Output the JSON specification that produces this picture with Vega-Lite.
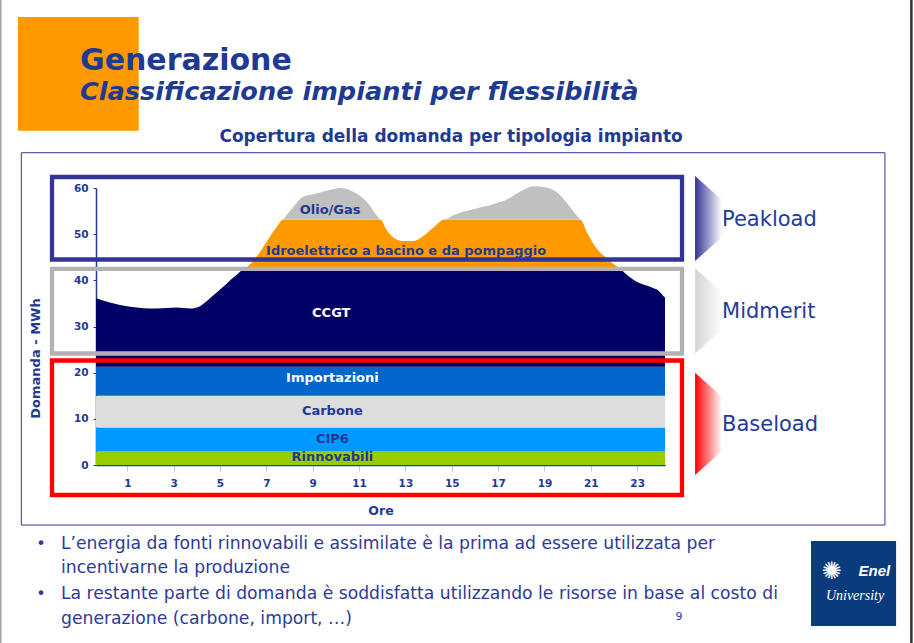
{
  "$schema": "https://vega.github.io/schema/vega-lite/v6.json",
  "width": 569,
  "height": 277,
  "autosize": {"type": "none"},
  "padding": {"left": 96, "top": 188, "right": 249, "bottom": 178},
  "background": "#ffffff",
  "config": {"view": {"stroke": null}, "font": "DejaVu Sans"},
  "data": {"values": [{"note": "slide"}]},
  "datasets": {
    "bands": [
      {"hour": -0.35, "type": "Rinnovabili", "lo": 0, "hi": 2.9},
      {"hour": 24.2, "type": "Rinnovabili", "lo": 0, "hi": 2.9},
      {"hour": -0.35, "type": "CIP6", "lo": 2.9, "hi": 8.1},
      {"hour": 24.2, "type": "CIP6", "lo": 2.9, "hi": 8.1},
      {"hour": -0.35, "type": "Carbone", "lo": 8.1, "hi": 15.0},
      {"hour": 24.2, "type": "Carbone", "lo": 8.1, "hi": 15.0},
      {"hour": -0.35, "type": "Importazioni", "lo": 15.0, "hi": 21.3},
      {"hour": 24.2, "type": "Importazioni", "lo": 15.0, "hi": 21.3},
      {"hour": -0.35, "type": "CCGT", "lo": 21.3, "hi": 36.1},
      {"hour": 0.25, "type": "CCGT", "lo": 21.3, "hi": 35.2},
      {"hour": 1.12, "type": "CCGT", "lo": 21.3, "hi": 34.3},
      {"hour": 2.27, "type": "CCGT", "lo": 21.3, "hi": 33.9},
      {"hour": 3.13, "type": "CCGT", "lo": 21.3, "hi": 34.1},
      {"hour": 3.71, "type": "CCGT", "lo": 21.3, "hi": 33.9},
      {"hour": 4.14, "type": "CCGT", "lo": 21.3, "hi": 34.4},
      {"hour": 4.57, "type": "CCGT", "lo": 21.3, "hi": 36.1},
      {"hour": 5.14, "type": "CCGT", "lo": 21.3, "hi": 38.6},
      {"hour": 5.72, "type": "CCGT", "lo": 21.3, "hi": 41.2},
      {"hour": 5.98, "type": "CCGT", "lo": 21.3, "hi": 42.2},
      {"hour": 22.3, "type": "CCGT", "lo": 21.3, "hi": 42.2},
      {"hour": 22.55, "type": "CCGT", "lo": 21.3, "hi": 41.2},
      {"hour": 22.98, "type": "CCGT", "lo": 21.3, "hi": 39.7},
      {"hour": 23.55, "type": "CCGT", "lo": 21.3, "hi": 38.6},
      {"hour": 23.98, "type": "CCGT", "lo": 21.3, "hi": 37.5},
      {"hour": 24.15, "type": "CCGT", "lo": 21.3, "hi": 36.5},
      {"hour": 24.2, "type": "CCGT", "lo": 21.3, "hi": 36.3},
      {"hour": 5.98, "type": "Idro", "lo": 42.2, "hi": 42.2},
      {"hour": 6.15, "type": "Idro", "lo": 42.2, "hi": 42.8},
      {"hour": 6.58, "type": "Idro", "lo": 42.2, "hi": 45.1},
      {"hour": 7.02, "type": "Idro", "lo": 42.2, "hi": 48.4},
      {"hour": 7.45, "type": "Idro", "lo": 42.2, "hi": 51.6},
      {"hour": 7.73, "type": "Idro", "lo": 42.2, "hi": 53.2},
      {"hour": 11.92, "type": "Idro", "lo": 42.2, "hi": 53.2},
      {"hour": 12.19, "type": "Idro", "lo": 42.2, "hi": 50.9},
      {"hour": 12.48, "type": "Idro", "lo": 42.2, "hi": 49.3},
      {"hour": 12.91, "type": "Idro", "lo": 42.2, "hi": 48.5},
      {"hour": 13.34, "type": "Idro", "lo": 42.2, "hi": 48.5},
      {"hour": 13.77, "type": "Idro", "lo": 42.2, "hi": 49.6},
      {"hour": 14.2, "type": "Idro", "lo": 42.2, "hi": 51.4},
      {"hour": 14.7, "type": "Idro", "lo": 42.2, "hi": 53.2},
      {"hour": 20.53, "type": "Idro", "lo": 42.2, "hi": 53.2},
      {"hour": 20.89, "type": "Idro", "lo": 42.2, "hi": 49.8},
      {"hour": 21.25, "type": "Idro", "lo": 42.2, "hi": 46.9},
      {"hour": 21.68, "type": "Idro", "lo": 42.2, "hi": 44.8},
      {"hour": 22.12, "type": "Idro", "lo": 42.2, "hi": 43.0},
      {"hour": 22.3, "type": "Idro", "lo": 42.2, "hi": 42.2},
      {"hour": 7.73, "type": "Olio/Gas", "lo": 53.2, "hi": 53.2},
      {"hour": 8.16, "type": "Olio/Gas", "lo": 53.2, "hi": 55.9},
      {"hour": 8.59, "type": "Olio/Gas", "lo": 53.2, "hi": 58.1},
      {"hour": 9.17, "type": "Olio/Gas", "lo": 53.2, "hi": 58.8},
      {"hour": 9.75, "type": "Olio/Gas", "lo": 53.2, "hi": 59.6},
      {"hour": 10.18, "type": "Olio/Gas", "lo": 53.2, "hi": 60.0},
      {"hour": 10.75, "type": "Olio/Gas", "lo": 53.2, "hi": 59.2},
      {"hour": 11.33, "type": "Olio/Gas", "lo": 53.2, "hi": 57.0},
      {"hour": 11.76, "type": "Olio/Gas", "lo": 53.2, "hi": 54.1},
      {"hour": 11.92, "type": "Olio/Gas", "lo": 53.2, "hi": 53.2},
      {"hour": 14.7, "type": "Olio/Gas", "lo": 53.2, "hi": 53.2},
      {"hour": 15.07, "type": "Olio/Gas", "lo": 53.2, "hi": 54.1},
      {"hour": 15.93, "type": "Olio/Gas", "lo": 53.2, "hi": 55.4},
      {"hour": 16.79, "type": "Olio/Gas", "lo": 53.2, "hi": 56.5},
      {"hour": 17.37, "type": "Olio/Gas", "lo": 53.2, "hi": 57.5},
      {"hour": 17.94, "type": "Olio/Gas", "lo": 53.2, "hi": 59.2},
      {"hour": 18.52, "type": "Olio/Gas", "lo": 53.2, "hi": 60.4},
      {"hour": 19.09, "type": "Olio/Gas", "lo": 53.2, "hi": 60.1},
      {"hour": 19.67, "type": "Olio/Gas", "lo": 53.2, "hi": 58.5},
      {"hour": 20.1, "type": "Olio/Gas", "lo": 53.2, "hi": 55.9},
      {"hour": 20.53, "type": "Olio/Gas", "lo": 53.2, "hi": 53.2}
    ]
  },
  "layer": [
    {
      "data": {"name": "bands"},
      "mark": {"type": "area", "interpolate": "monotone", "opacity": 1},
      "encoding": {
        "x": {
          "field": "hour", "type": "quantitative",
          "scale": {"domain": [-0.35, 24.2], "nice": false, "zero": false},
          "axis": {
            "values": [1,2,3,4,5,6,7,8,9,10,11,12,13,14,15,16,17,18,19,20,21,22,23,24],
            "labelExpr": "datum.value % 2 == 1 ? datum.label : ''",
            "format": "d",
            "title": "Ore", "grid": false,
            "tickSize": 6, "tickColor": "#c8c8c8", "tickWidth": 1,
            "domainColor": "#1f3a93", "domainWidth": 1.5,
            "labelFont": "DejaVu Sans", "labelFontWeight": "bold", "labelFontSize": 10.5, "labelColor": "#1f3a93",
            "labelPadding": 7, "labelFlush": false, "labelOverlap": false,
            "titleFont": "DejaVu Sans", "titleFontWeight": "bold", "titleFontSize": 12.5, "titleColor": "#1f3a93",
            "titlePadding": 16
          }
        },
        "y": {
          "field": "hi", "type": "quantitative", "stack": null,
          "scale": {"domain": [0, 60], "nice": false},
          "axis": {
            "values": [0, 10, 20, 30, 40, 50, 60],
            "title": "Domanda - MWh", "grid": false,
            "tickSize": 3, "tickColor": "#1f3a93", "domainColor": "#1f3a93", "domainWidth": 1.5,
            "labelFont": "DejaVu Sans", "labelFontWeight": "bold", "labelFontSize": 10.5, "labelColor": "#1f3a93",
            "labelPadding": 5,
            "titleFont": "DejaVu Sans", "titleFontWeight": "bold", "titleFontSize": 13, "titleColor": "#1f3a93",
            "titleX": -61, "titleY": 170, "titleAngle": 270, "titleAlign": "center", "titleBaseline": "middle"
          }
        },
        "y2": {"field": "lo"},
        "color": {
          "field": "type", "type": "nominal", "legend": null,
          "scale": {
            "domain": ["Rinnovabili", "CIP6", "Carbone", "Importazioni", "CCGT", "Idro", "Olio/Gas"],
            "range": ["#99cc00", "#0099ff", "#dddddd", "#0066cc", "#000066", "#ff9900", "#c0c0c0"]
          }
        }
      }
    },
    {
      "mark": {"type": "rect", "fillOpacity": 0, "stroke": "#333399", "strokeWidth": 1},
      "encoding": {"x": {"datum": -3.573}, "x2": {"datum": 33.69}, "y": {"datum": 67.64}, "y2": {"datum": -13.0}}
    },
    {
      "mark": {"type": "rect", "fillOpacity": 0, "stroke": "#333399", "strokeWidth": 4.3},
      "encoding": {"x": {"datum": -2.248}, "x2": {"datum": 24.934}, "y": {"datum": 62.38}, "y2": {"datum": 44.51}}
    },
    {
      "mark": {"type": "rect", "fillOpacity": 0, "stroke": "#b2b2b2", "strokeWidth": 4.3},
      "encoding": {"x": {"datum": -2.248}, "x2": {"datum": 24.934}, "y": {"datum": 42.5}, "y2": {"datum": 24.15}}
    },
    {
      "mark": {"type": "rect", "fillOpacity": 0, "stroke": "#ff0000", "strokeWidth": 4.3},
      "encoding": {"x": {"datum": -2.248}, "x2": {"datum": 24.934}, "y": {"datum": 22.63}, "y2": {"datum": -6.5}}
    },
    {
      "mark": {"type": "point", "shape": "M-0.318,-1L0.318,-0.435L0.318,0.435L-0.318,1Z", "size": 7225, "filled": true, "opacity": 1, "strokeOpacity": 0,
        "fill": {"gradient": "linear", "x1": 0, "y1": 0, "x2": 1, "y2": 0, "stops": [{"offset": 0, "color": "#333399"}, {"offset": 1, "color": "#ffffff"}]}},
      "encoding": {"x": {"datum": 26.08}, "y": {"datum": 53.39}}
    },
    {
      "mark": {"type": "point", "shape": "M-0.318,-1L0.318,-0.45L0.318,0.45L-0.318,1Z", "size": 7225, "filled": true, "opacity": 1, "strokeOpacity": 0,
        "fill": {"gradient": "linear", "x1": 0, "y1": 0, "x2": 1, "y2": 0, "stops": [{"offset": 0, "color": "#d4d4d4"}, {"offset": 1, "color": "#ffffff"}]}},
      "encoding": {"x": {"datum": 26.08}, "y": {"datum": 33.4}}
    },
    {
      "mark": {"type": "point", "shape": "M-0.264,-1L0.264,-0.531L0.264,0.531L-0.264,1Z", "size": 10465, "filled": true, "opacity": 1, "strokeOpacity": 0,
        "fill": {"gradient": "linear", "x1": 0, "y1": 0, "x2": 1, "y2": 0, "stops": [{"offset": 0, "color": "#ff0000"}, {"offset": 1, "color": "#ffffff"}]}},
      "encoding": {"x": {"datum": 26.08}, "y": {"datum": 8.91}}
    },
    {
      "mark": {"type": "text", "text": "Peakload", "font": "DejaVu Sans", "fontSize": 21, "color": "#24399a", "align": "left", "baseline": "middle"},
      "encoding": {"x": {"datum": 26.66}, "y": {"datum": 53.07}}
    },
    {
      "mark": {"type": "text", "text": "Midmerit", "font": "DejaVu Sans", "fontSize": 21, "color": "#24399a", "align": "left", "baseline": "middle"},
      "encoding": {"x": {"datum": 26.66}, "y": {"datum": 33.14}}
    },
    {
      "mark": {"type": "text", "text": "Baseload", "font": "DejaVu Sans", "fontSize": 21, "color": "#24399a", "align": "left", "baseline": "middle"},
      "encoding": {"x": {"datum": 26.66}, "y": {"datum": 8.66}}
    },
    {
      "mark": {"type": "text", "text": "Olio/Gas", "font": "DejaVu Sans", "fontSize": 13, "fontWeight": "bold", "color": "#1f3a93", "align": "center", "baseline": "middle"},
      "encoding": {"x": {"datum": 9.75}, "y": {"datum": 55.2}}
    },
    {
      "mark": {"type": "text", "text": "Idroelettrico a bacino e da pompaggio", "font": "DejaVu Sans", "fontSize": 13, "fontWeight": "bold", "color": "#1f3a93", "align": "center", "baseline": "middle"},
      "encoding": {"x": {"datum": 13.03}, "y": {"datum": 46.35}}
    },
    {
      "mark": {"type": "text", "text": "CCGT", "font": "DejaVu Sans", "fontSize": 13, "fontWeight": "bold", "color": "#ffffff", "align": "center", "baseline": "middle"},
      "encoding": {"x": {"datum": 9.8}, "y": {"datum": 32.9}}
    },
    {
      "mark": {"type": "text", "text": "Importazioni", "font": "DejaVu Sans", "fontSize": 13, "fontWeight": "bold", "color": "#ffffff", "align": "center", "baseline": "middle"},
      "encoding": {"x": {"datum": 9.85}, "y": {"datum": 18.8}}
    },
    {
      "mark": {"type": "text", "text": "Carbone", "font": "DejaVu Sans", "fontSize": 13, "fontWeight": "bold", "color": "#1f3a93", "align": "center", "baseline": "middle"},
      "encoding": {"x": {"datum": 9.85}, "y": {"datum": 11.7}}
    },
    {
      "mark": {"type": "text", "text": "CIP6", "font": "DejaVu Sans", "fontSize": 13, "fontWeight": "bold", "color": "#1f3a93", "align": "center", "baseline": "middle"},
      "encoding": {"x": {"datum": 9.85}, "y": {"datum": 5.6}}
    },
    {
      "mark": {"type": "text", "text": "Rinnovabili", "font": "DejaVu Sans", "fontSize": 13, "fontWeight": "bold", "color": "#1f3a93", "align": "center", "baseline": "middle"},
      "encoding": {"x": {"datum": 9.85}, "y": {"datum": 1.67}}
    },
    {
      "mark": {"type": "rect", "color": "#ff9900", "opacity": 1},
      "encoding": {"x": {"datum": -3.715}, "x2": {"datum": 1.492}, "y": {"datum": 97.03}, "y2": {"datum": 72.41}}
    },
    {
      "mark": {"type": "text", "text": "Generazione", "font": "DejaVu Sans", "fontSize": 30, "fontWeight": "bold", "color": "#1f3a93", "align": "left", "baseline": "alphabetic"},
      "encoding": {"x": {"datum": -1.04}, "y": {"datum": 85.55}}
    },
    {
      "mark": {"type": "text", "text": "Classificazione impianti per flessibilità", "font": "DejaVu Sans", "fontSize": 25.6, "fontWeight": "bold", "fontStyle": "italic", "color": "#1f3a93", "align": "left", "baseline": "alphabetic"},
      "encoding": {"x": {"datum": -1.04}, "y": {"datum": 79.06}}
    },
    {
      "mark": {"type": "text", "text": "Copertura della domanda per tipologia impianto", "font": "DejaVu Sans", "fontSize": 17, "fontWeight": "bold", "color": "#1f3a93", "align": "center", "baseline": "alphabetic"},
      "encoding": {"x": {"datum": 14.97}, "y": {"datum": 70.02}}
    },
    {
      "mark": {"type": "text", "text": "•", "font": "DejaVu Sans", "fontSize": 16, "color": "#2e3a96", "align": "center", "baseline": "alphabetic"},
      "encoding": {"x": {"datum": -2.72}, "y": {"datum": -18.26}}
    },
    {
      "mark": {"type": "text", "text": "L’energia da fonti rinnovabili e assimilate è la prima ad essere utilizzata per", "font": "DejaVu Sans", "fontSize": 17.2, "color": "#2e3a96", "align": "left", "baseline": "alphabetic"},
      "encoding": {"x": {"datum": -1.86}, "y": {"datum": -18.26}}
    },
    {
      "mark": {"type": "text", "text": "incentivarne la produzione", "font": "DejaVu Sans", "fontSize": 17.2, "color": "#2e3a96", "align": "left", "baseline": "alphabetic"},
      "encoding": {"x": {"datum": -1.86}, "y": {"datum": -23.46}}
    },
    {
      "mark": {"type": "text", "text": "•", "font": "DejaVu Sans", "fontSize": 16, "color": "#2e3a96", "align": "center", "baseline": "alphabetic"},
      "encoding": {"x": {"datum": -2.72}, "y": {"datum": -29.09}}
    },
    {
      "mark": {"type": "text", "text": "La restante parte di domanda è soddisfatta utilizzando le risorse in base al costo di", "font": "DejaVu Sans", "fontSize": 17.2, "color": "#2e3a96", "align": "left", "baseline": "alphabetic"},
      "encoding": {"x": {"datum": -1.86}, "y": {"datum": -29.09}}
    },
    {
      "mark": {"type": "text", "text": "generazione (carbone, import, …)", "font": "DejaVu Sans", "fontSize": 17.2, "color": "#2e3a96", "align": "left", "baseline": "alphabetic"},
      "encoding": {"x": {"datum": -1.86}, "y": {"datum": -34.44}}
    },
    {
      "mark": {"type": "text", "text": "9", "font": "DejaVu Sans", "fontSize": 11, "color": "#2e3a96", "align": "center", "baseline": "alphabetic"},
      "encoding": {"x": {"datum": 24.8}, "y": {"datum": -33.57}}
    },
    {
      "mark": {"type": "rect", "color": "#0a3c7d", "opacity": 1},
      "encoding": {"x": {"datum": 30.5}, "x2": {"datum": 34.17}, "y": {"datum": -16.46}, "y2": {"datum": -34.87}}
    },
    {
      "mark": {"type": "text", "text": "✺", "font": "DejaVu Sans", "fontSize": 24, "color": "#ffffff", "align": "center", "baseline": "middle"},
      "encoding": {"x": {"datum": 31.39}, "y": {"datum": -23.11}}
    },
    {
      "mark": {"type": "text", "text": "Enel", "font": "Liberation Sans", "fontSize": 15, "fontWeight": "bold", "fontStyle": "italic", "color": "#ffffff", "align": "left", "baseline": "alphabetic"},
      "encoding": {"x": {"datum": 32.55}, "y": {"datum": -23.98}}
    },
    {
      "mark": {"type": "text", "text": "University", "font": "Liberation Serif", "fontSize": 14, "fontStyle": "italic", "color": "#ffffff", "align": "center", "baseline": "alphabetic"},
      "encoding": {"x": {"datum": 32.4}, "y": {"datum": -29.24}}
    },
    {
      "mark": {"type": "rule", "color": "#a0a0a0", "strokeWidth": 1.5},
      "encoding": {"x": {"datum": -4.46}, "y": {"datum": 100.7}, "y2": {"datum": -38.55}}
    },
    {
      "mark": {"type": "rule", "color": "#333333", "strokeWidth": 2.5},
      "encoding": {"x": {"datum": 34.83}, "y": {"datum": 100.7}, "y2": {"datum": -38.55}}
    }
  ]
}
